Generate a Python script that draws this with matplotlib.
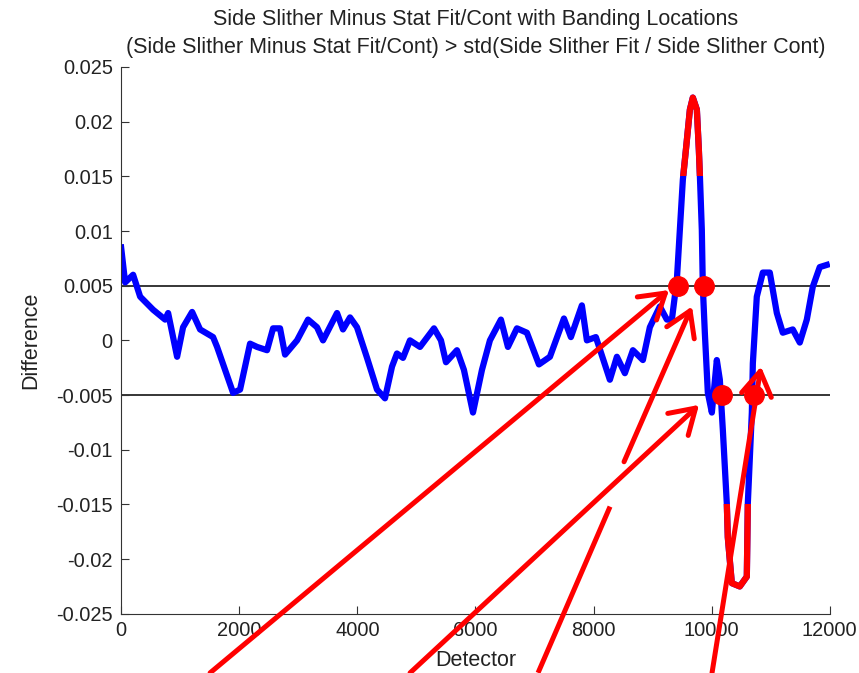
import numpy as np
import matplotlib
matplotlib.use("Agg")
import matplotlib.pyplot as plt
import matplotlib as mpl
from matplotlib.patches import Rectangle

mpl.rcParams['font.family'] = 'sans-serif'
mpl.rcParams['font.sans-serif'] = ['Liberation Sans', 'DejaVu Sans']
mpl.rcParams['font.size'] = 14.4

# difference curve
detector = [0, 68, 203, 322, 542, 745, 796, 948, 1049, 1202, 1337, 1557, 1625,
            1896, 2014, 2183, 2302, 2471, 2573, 2691, 2776, 2979, 3165, 3317,
            3419, 3656, 3757, 3876, 3994, 4164, 4333, 4468, 4587, 4671, 4773,
            4891, 5061, 5298, 5416, 5501, 5687, 5805, 5958, 6110, 6245, 6431,
            6550, 6702, 6871, 7075, 7261, 7498, 7616, 7802, 7887, 8039, 8276,
            8395, 8530, 8666, 8835, 8953, 9122, 9241, 9326, 9410, 9461, 9512,
            9563, 9631, 9681, 9749, 9783, 9800, 9833, 9850, 9884, 9935, 10003,
            10087, 10138, 10189, 10256, 10273, 10341, 10476, 10595, 10612,
            10680, 10697, 10764, 10866, 10984, 11103, 11204, 11373, 11492,
            11611, 11712, 11830, 11949]
difference = [0.0085, 0.0053, 0.0060, 0.0040, 0.0028, 0.0019, 0.0025, -0.0015,
              0.0012, 0.0026, 0.0010, 0.0003, -0.0006, -0.0048, -0.0045,
              -0.0003, -0.0006, -0.0009, 0.0011, 0.0011, -0.0013, 0.0000,
              0.0019, 0.0012, 0.0000, 0.0025, 0.0010, 0.0021, 0.0012, -0.0016,
              -0.0045, -0.0053, -0.0024, -0.0012, -0.0016, 0.0000, -0.0006,
              0.0011, 0.0000, -0.0020, -0.0009, -0.0027, -0.0066, -0.0027,
              0.0000, 0.0019, -0.0006, 0.0011, 0.0007, -0.0022, -0.0015,
              0.0020, 0.0003, 0.0032, 0.0000, 0.0003, -0.0036, -0.0015,
              -0.0030, -0.0009, -0.0018, 0.0012, 0.0031, 0.0019, 0.0019,
              0.0055, 0.0101, 0.0147, 0.0174, 0.0211, 0.0222, 0.0211, 0.0174,
              0.0151, 0.0101, 0.0049, 0.0007, -0.0048, -0.0066, -0.0018,
              -0.0036, -0.0082, -0.0149, -0.0180, -0.0222, -0.0225, -0.0216,
              -0.0149, -0.0066, -0.0021, 0.0040, 0.0062, 0.0062, 0.0025,
              0.0007, 0.0010, -0.0002, 0.0019, 0.0049, 0.0067, 0.0069]

band_level = 0.005      # std lines
band_red = 0.015        # part of the curve drawn red

# banding locations
dot_x = [9430, 9870, 10175, 10717]
dot_y = [0.005, 0.005, -0.005, -0.005]

# arrows (tail -> tip), tails sit below the axes
arrow_tail_x = [1507, 4893, 8516, 10006]
arrow_tail_y = [-0.0304, -0.0304, -0.0111, -0.0304]
arrow_tip_x = [9277, 9786, 9667, 10835]
arrow_tip_y = [0.0046, -0.0059, 0.0031, -0.0024]
# loose piece of the third arrow
stub_x = [7060, 8279]
stub_y = [-0.0304, -0.0152]

x = np.array(detector)
y = np.array(difference)

fig = plt.figure(figsize=(8.59, 6.73), dpi=100)
ax = fig.add_axes([0.141, 0.088, 0.825, 0.8125])

ax.axhline(band_level, color='black', lw=1.1, zorder=1)
ax.axhline(-band_level, color='black', lw=1.1, zorder=1)

ax.plot(x, y, color='blue', lw=4.5, zorder=2)

# same curve in red, only where it goes past +-0.015
for lo, hi in [(band_red, 1.0), (-1.0, -band_red)]:
    line, = ax.plot(x, y, color='red', lw=4.5, zorder=3)
    rect = Rectangle((-1e5, lo), 2e5, hi - lo, transform=ax.transData)
    line.set_clip_path(rect)

ax.plot(dot_x, dot_y, 'o', color='red', ms=14, zorder=4)

for i in range(len(arrow_tip_x)):
    ax.annotate('', xy=(arrow_tip_x[i], arrow_tip_y[i]),
                xytext=(arrow_tail_x[i], arrow_tail_y[i]),
                annotation_clip=False, zorder=5,
                arrowprops=dict(arrowstyle='->,head_length=1.2,head_width=0.75',
                                color='red', lw=3.6, shrinkA=0, shrinkB=0))
ax.plot(stub_x, stub_y, color='red', lw=3.6, clip_on=False, zorder=5,
        solid_capstyle='butt')

ax.set_xlim(0, 12000)
ax.set_ylim(-0.025, 0.025)
ax.set_xticks(np.arange(0, 12001, 2000))
ax.set_yticks(np.arange(-0.025, 0.0251, 0.005))
ax.set_yticklabels(['-0.025', '-0.02', '-0.015', '-0.01', '-0.005', '0',
                    '0.005', '0.01', '0.015', '0.02', '0.025'])

ax.spines['right'].set_visible(False)
ax.spines['top'].set_visible(False)
ax.spines['left'].set_color('#333333')
ax.spines['bottom'].set_color('#333333')
ax.tick_params(direction='in', length=6, color='#333333', labelcolor='#222222')
ax.tick_params(axis='y', pad=6)
ax.tick_params(axis='x', pad=5)

ax.set_title("Side Slither Minus Stat Fit/Cont with Banding Locations\n"
             "(Side Slither Minus Stat Fit/Cont) > std(Side Slither Fit / Side Slither Cont)",
             fontsize=15.5, linespacing=1.45, pad=10, color='#222222')
ax.set_xlabel("Detector", fontsize=15.5, color='#222222')
ax.set_ylabel("Difference", fontsize=15.5, color='#222222')
ax.xaxis.set_label_coords(0.5, -0.066)
ax.yaxis.set_label_coords(-0.113, 0.5)

fig.savefig("out.png", dpi=100)
